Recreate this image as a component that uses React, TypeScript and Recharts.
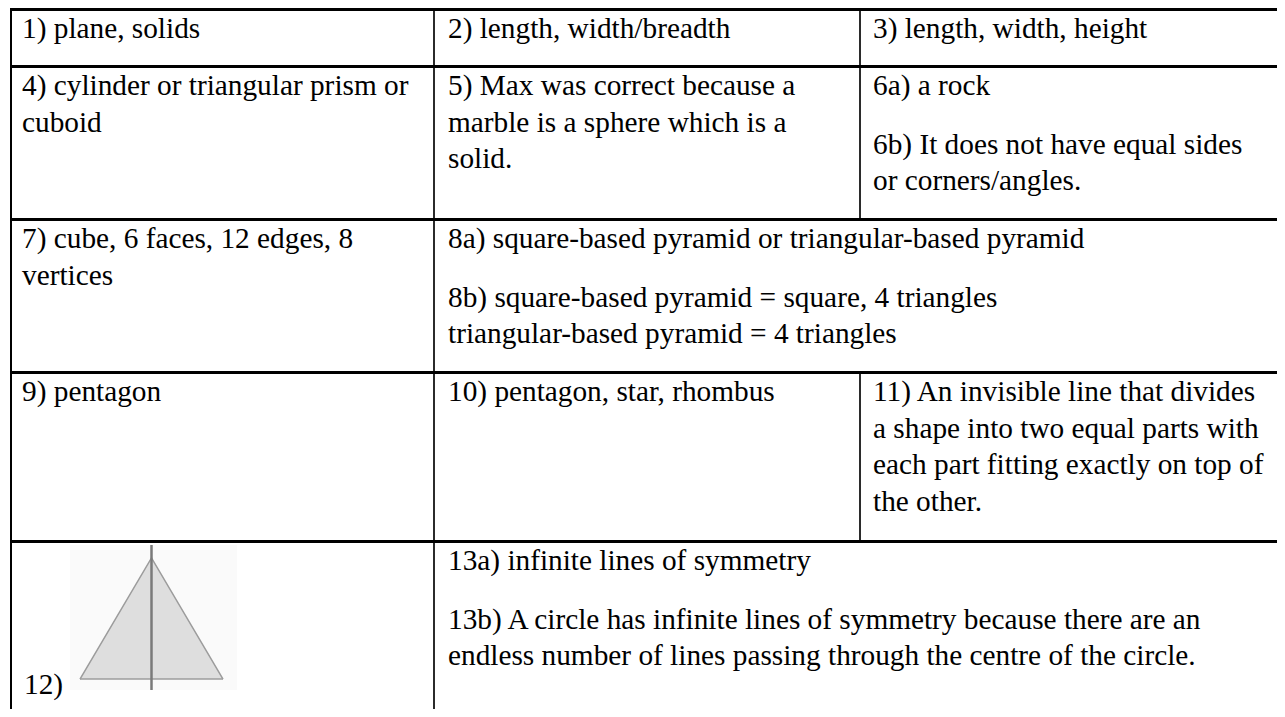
import React from "react";
import { AreaChart, Area, XAxis, YAxis, ReferenceLine } from "recharts";

// answer text: one entry per cell, each cell a list of paragraphs, each paragraph its printed lines
const row1 = [
  [["1) plane, solids"]],
  [["2) length, width/breadth"]],
  [["3) length, width, height"]],
];
const row2 = [
  [["4) cylinder or triangular prism or", "cuboid"]],
  [["5) Max was correct because a", "marble is a sphere which is a", "solid."]],
  [["6a) a rock"], ["6b) It does not have equal sides", "or corners/angles."]],
];
const row3 = [
  [["7) cube, 6 faces, 12 edges, 8", "vertices"]],
  [
    ["8a) square-based pyramid or triangular-based pyramid"],
    ["8b) square-based pyramid = square, 4 triangles", "triangular-based pyramid = 4 triangles"],
  ],
];
const row4 = [
  [["9) pentagon"]],
  [["10) pentagon, star, rhombus"]],
  [["11) An invisible line that divides", "a shape into two equal parts with", "each part fitting exactly on top of", "the other."]],
];
const row5 = [
  [],
  [
    ["13a) infinite lines of symmetry"],
    ["13b) A circle has infinite lines of symmetry because there are an", "endless number of lines passing through the centre of the circle."],
  ],
];
const figureLabel = "12)";

// triangle for answer 12 with its line of symmetry
const triangleX = [0, 0.5, 1];
const triangleY = [0, 1, 0];
const symmetryX = 0.5;

const rows = [row1, row2, row3, row4, row5];
const rowSpans = [[1, 1, 1], [1, 1, 1], [1, 2], [1, 1, 1], [1, 2]];
const colEdges = [10, 434, 860, 1300];
const rowEdges = [9, 66, 219, 372, 541, 730];
const padLeft = [12, 14, 13];

const textStyle: React.CSSProperties = {
  fontFamily: '"Liberation Serif", "Times New Roman", serif',
  fontSize: 29.3,
  lineHeight: "36.6px",
  color: "#000",
  whiteSpace: "nowrap",
};

function TriangleFigure() {
  const data = triangleX.map((x, i) => ({ x, y: triangleY[i] }));
  return (
    <div style={{ position: "absolute", left: 70, top: 545, width: 167, height: 145, background: "#fafafa" }}>
      <AreaChart width={167} height={145} data={data} margin={{ top: 0, right: 14, bottom: 0, left: 10 }}>
        <XAxis type="number" dataKey="x" domain={[0, 1]} hide />
        <YAxis type="number" domain={[-0.09, 1.107]} hide />
        <Area
          type="linear"
          dataKey="y"
          stroke="#9c9c9c"
          strokeWidth={1.5}
          fill="#dedede"
          fillOpacity={1}
          dot={false}
          activeDot={false}
          isAnimationActive={false}
        />
        <ReferenceLine y={0} stroke="#9c9c9c" strokeWidth={1.5} />
        <ReferenceLine x={symmetryX} stroke="#7a7a7a" strokeWidth={2.5} />
      </AreaChart>
    </div>
  );
}

export default function App() {
  const pieces: React.ReactNode[] = [];

  rows.forEach((cells, r) => {
    const top = rowEdges[r];
    const bottom = rowEdges[r + 1];
    let col = 0;
    cells.forEach((paras, c) => {
      const span = rowSpans[r][c];
      const left = colEdges[col];
      if (col > 0) {
        pieces.push(
          <div
            key={`v-${r}-${c}`}
            style={{ position: "absolute", left: left - 1, top, width: 2, height: bottom - top, background: "#2b2b2b" }}
          />
        );
      }
      pieces.push(
        <div key={`t-${r}-${c}`} style={{ position: "absolute", left: left + padLeft[col], top: top + 1, ...textStyle }}>
          {paras.map((lines, p) => (
            <div key={p} style={{ marginTop: p > 0 ? 22 : 0 }}>
              {lines.map((line, l) => (
                <div key={l}>{line}</div>
              ))}
            </div>
          ))}
        </div>
      );
      col += span;
    });
  });

  rowEdges.slice(0, 5).forEach((y, i) => {
    pieces.push(
      <div key={`h-${i}`} style={{ position: "absolute", left: 10, top: y - 1, width: 1290, height: 3, background: "#000" }} />
    );
  });

  return (
    <div style={{ position: "relative", margin: -8, width: 1285, height: 717, overflow: "hidden", background: "#fff" }}>
      <TriangleFigure />
      {pieces}
      <div style={{ position: "absolute", left: 10, top: 8, width: 2, height: 720, background: "#000" }} />
      <div style={{ position: "absolute", left: 24, top: 666, ...textStyle }}>{figureLabel}</div>
    </div>
  );
}
